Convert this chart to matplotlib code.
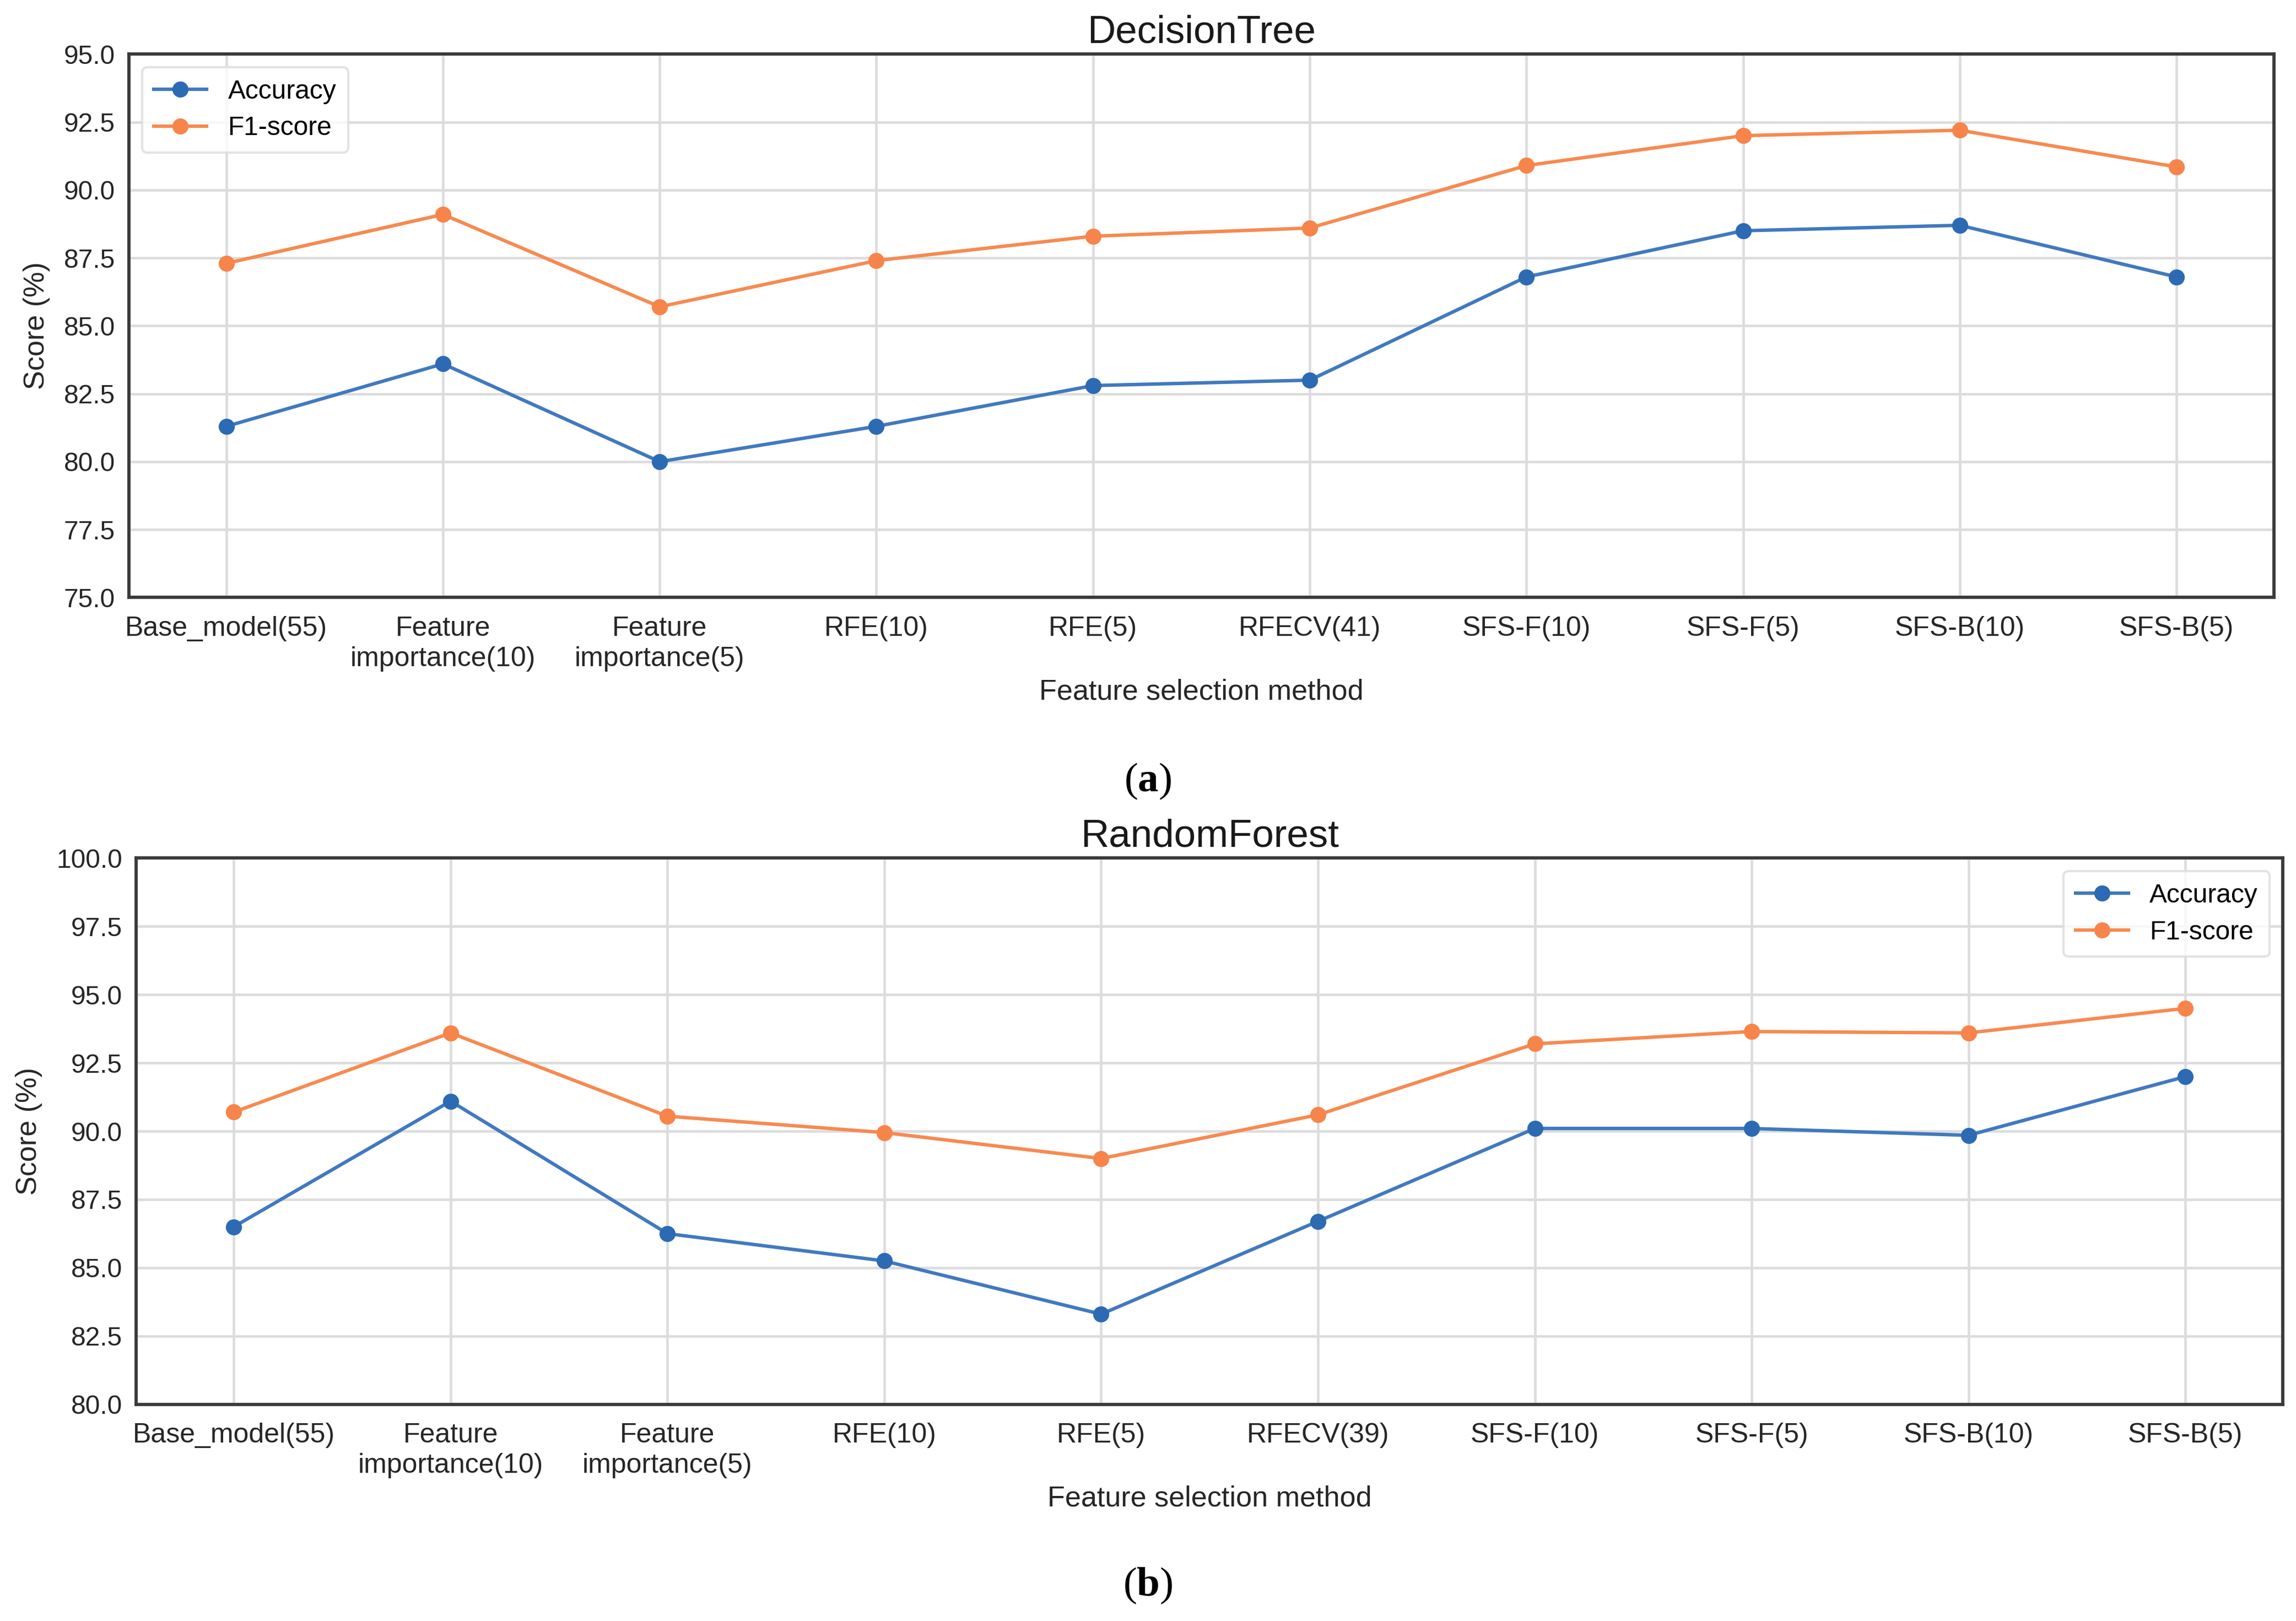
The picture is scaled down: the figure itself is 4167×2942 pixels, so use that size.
import matplotlib
matplotlib.use("Agg")
import matplotlib.pyplot as plt
import numpy as np

plt.rcParams['font.family'] = ['Liberation Sans', 'DejaVu Sans']
plt.rcParams['mathtext.fontset'] = 'custom'
plt.rcParams['mathtext.bf'] = 'Liberation Serif:bold'
plt.rcParams['mathtext.rm'] = 'Liberation Serif'

# data
methods_dt = ["Base_model(55)", "Feature\nimportance(10)", "Feature\nimportance(5)",
              "RFE(10)", "RFE(5)", "RFECV(41)", "SFS-F(10)", "SFS-F(5)",
              "SFS-B(10)", "SFS-B(5)"]
methods_rf = ["Base_model(55)", "Feature\nimportance(10)", "Feature\nimportance(5)",
              "RFE(10)", "RFE(5)", "RFECV(39)", "SFS-F(10)", "SFS-F(5)",
              "SFS-B(10)", "SFS-B(5)"]

dt_acc = [81.3, 83.6, 80.0, 81.3, 82.8, 83.0, 86.8, 88.5, 88.7, 86.8]
dt_f1 = [87.3, 89.1, 85.7, 87.4, 88.3, 88.6, 90.9, 92.0, 92.2, 90.85]

rf_acc = [86.5, 91.1, 86.25, 85.25, 83.3, 86.7, 90.1, 90.1, 89.85, 92.0]
rf_f1 = [90.7, 93.6, 90.55, 89.95, 89.0, 90.6, 93.2, 93.65, 93.6, 94.5]

BLUE = '#4079c0'
BLUE_M = '#2c6ab4'
ORANGE = '#f78a50'
ORANGE_M = '#f7844a'


def draw_panel(ax, labels, acc, f1, title, ylim, legend_loc):
    x = np.arange(len(labels))
    ax.plot(x, acc, color=BLUE, lw=1.5, marker='o', ms=6,
            mfc=BLUE_M, mec=BLUE_M, label='Accuracy')
    ax.plot(x, f1, color=ORANGE, lw=1.5, marker='o', ms=6,
            mfc=ORANGE_M, mec=ORANGE_M, label='F1-score')
    ax.set_xticks(x)
    ax.set_xticklabels(labels, fontsize=12, color='#262626', linespacing=1.25)
    ax.set_xlim(-0.45, len(labels) - 0.55)
    ax.set_ylim(*ylim)
    yt = np.arange(ylim[0], ylim[1] + 0.01, 2.5)
    ax.set_yticks(yt)
    ax.set_yticklabels([f"{v:.1f}" for v in yt], fontsize=11.5, color='#262626')
    ax.tick_params(axis='x', length=0, pad=8)
    ax.tick_params(axis='y', length=0, pad=6)
    ax.grid(True, color='#dcdcdc', lw=1.1)
    ax.set_axisbelow(True)
    for s in ax.spines.values():
        s.set_color('#3a3a3a')
        s.set_linewidth(1.4)
    ax.set_title(title, fontsize=17, color='#1a1a1a', pad=5)
    ax.set_ylabel("Score (%)", fontsize=12.5, color='#262626', labelpad=6)
    ax.set_xlabel("Feature selection method", fontsize=12.5, color='#262626', labelpad=3)
    leg = ax.legend(loc=legend_loc, fontsize=11.5, frameon=True, fancybox=True,
                    handlelength=2.0, borderpad=0.45, labelspacing=0.45)
    leg.get_frame().set_edgecolor('#dddddd')
    leg.get_frame().set_linewidth(1.0)


fig = plt.figure(figsize=(4167 / 300, 2942 / 300), dpi=300)
ax1 = fig.add_axes([0.0561, 0.6314, 0.9343, 0.3352])
ax2 = fig.add_axes([0.0593, 0.1337, 0.935, 0.3369])

draw_panel(ax1, methods_dt, dt_acc, dt_f1, "DecisionTree", (75.0, 95.0), 'upper left')
draw_panel(ax2, methods_rf, rf_acc, rf_f1, "RandomForest", (80.0, 100.0), 'upper right')

fig.text(0.5, 0.518, r"($\mathbf{a}$)", ha='center', va='center', fontsize=18,
         family='Liberation Serif')
fig.text(0.5, 0.0217, r"($\mathbf{b}$)", ha='center', va='center', fontsize=18,
         family='Liberation Serif')

fig.savefig("out.png", dpi=300, facecolor='white')
